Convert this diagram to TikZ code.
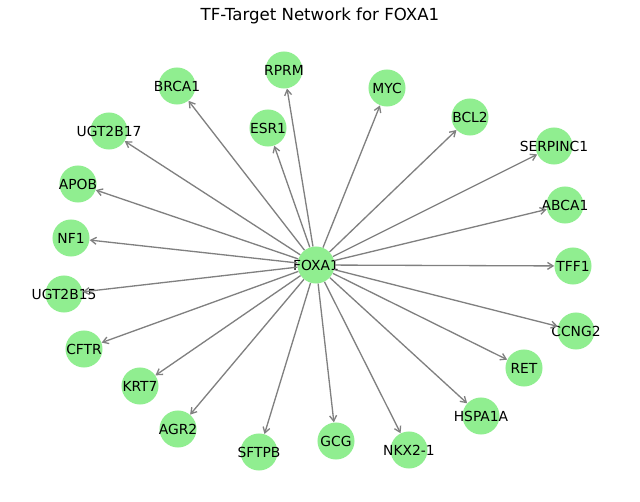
\documentclass[tikz,border=0pt]{standalone}
\usepackage{fontspec}
\setmainfont{DejaVu Sans}
\usetikzlibrary{arrows.meta}
\definecolor{lightgreen}{HTML}{90EE90}
\definecolor{edgegray}{HTML}{808080}

\begin{document}
\begin{tikzpicture}[x=0.01in, y=-0.01in,
        main/.style = {circle, fill=lightgreen, minimum size=0.37in, inner sep=0pt, font=\fontsize{10}{12}\selectfont},
        link/.style = {draw=edgegray, line width=0.95pt, -{Straight Barb[length=4pt, width=5pt]}}]
        \fill[white] (0,0) rectangle (640,502);
        \useasboundingbox (0,0) rectangle (640,502);

        \node (title) at (320,16) {\fontsize{12}{14}\selectfont TF-Target Network for FOXA1};

        \node[main] (FOXA1) at (316,265) {\makebox[0pt]{FOXA1}};

        \node[main] (RPRM) at (284,70) {\makebox[0pt]{RPRM}};
        \node[main] (BRCA1) at (177,86) {\makebox[0pt]{BRCA1}};
        \node[main] (MYC) at (387,88) {\makebox[0pt]{MYC}};
        \node[main] (ESR1) at (268,128) {\makebox[0pt]{ESR1}};
        \node[main] (BCL2) at (470,117) {\makebox[0pt]{BCL2}};
        \node[main] (UGT2B17) at (109,131) {\makebox[0pt]{UGT2B17}};
        \node[main] (SERPINC1) at (554,146) {\makebox[0pt]{SERPINC1}};
        \node[main] (APOB) at (78,184) {\makebox[0pt]{APOB}};
        \node[main] (ABCA1) at (565,205) {\makebox[0pt]{ABCA1}};
        \node[main] (NF1) at (71,238) {\makebox[0pt]{NF1}};
        \node[main] (TFF1) at (573,266) {\makebox[0pt]{TFF1}};
        \node[main] (UGT2B15) at (64,294) {\makebox[0pt]{UGT2B15}};
        \node[main] (CCNG2) at (576,331) {\makebox[0pt]{CCNG2}};
        \node[main] (CFTR) at (84,349) {\makebox[0pt]{CFTR}};
        \node[main] (RET) at (524,368) {\makebox[0pt]{RET}};
        \node[main] (KRT7) at (140,386) {\makebox[0pt]{KRT7}};
        \node[main] (HSPA1A) at (481,416) {\makebox[0pt]{HSPA1A}};
        \node[main] (AGR2) at (178,429) {\makebox[0pt]{AGR2}};
        \node[main] (GCG) at (336,441) {\makebox[0pt]{GCG}};
        \node[main] (SFTPB) at (259,452) {\makebox[0pt]{SFTPB}};
        \node[main] (NKX2-1) at (409,450) {\makebox[0pt]{NKX2-1}};

        \draw[link] (FOXA1) -- (RPRM);
        \draw[link] (FOXA1) -- (BRCA1);
        \draw[link] (FOXA1) -- (MYC);
        \draw[link] (FOXA1) -- (ESR1);
        \draw[link] (FOXA1) -- (BCL2);
        \draw[link] (FOXA1) -- (UGT2B17);
        \draw[link] (FOXA1) -- (SERPINC1);
        \draw[link] (FOXA1) -- (APOB);
        \draw[link] (FOXA1) -- (ABCA1);
        \draw[link] (FOXA1) -- (NF1);
        \draw[link] (FOXA1) -- (TFF1);
        \draw[link] (FOXA1) -- (UGT2B15);
        \draw[link] (FOXA1) -- (CCNG2);
        \draw[link] (FOXA1) -- (CFTR);
        \draw[link] (FOXA1) -- (RET);
        \draw[link] (FOXA1) -- (KRT7);
        \draw[link] (FOXA1) -- (HSPA1A);
        \draw[link] (FOXA1) -- (AGR2);
        \draw[link] (FOXA1) -- (GCG);
        \draw[link] (FOXA1) -- (SFTPB);
        \draw[link] (FOXA1) -- (NKX2-1);
    \end{tikzpicture}
\end{document}
